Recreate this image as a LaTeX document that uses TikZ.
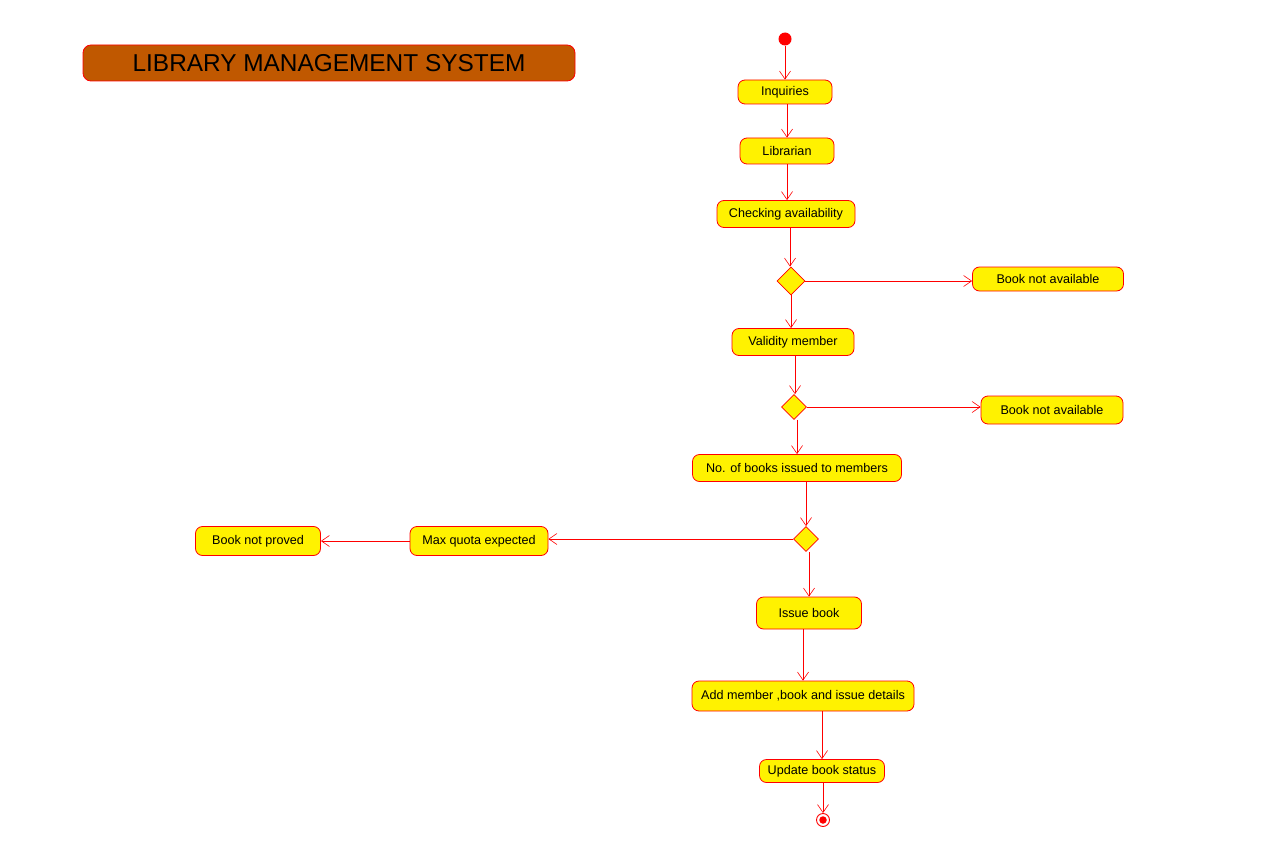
\documentclass[tikz,border=0pt]{standalone}
\usepackage{fontspec}
\setmainfont{Liberation Sans}
\usetikzlibrary{shapes.geometric,arrows.meta}
\definecolor{titlebrown}{HTML}{C05800}
\begin{document}
\begin{tikzpicture}[x=1pt, y=-1pt,
  act/.style={draw=red, fill=yellow, line width=0.8pt, rounded corners=7pt, font=\fontsize{12.6}{14}\selectfont, inner sep=2pt},
  decision/.style={diamond, draw=red, fill=yellow, line width=0.8pt, inner sep=0pt, minimum width=#1, minimum height=#1},
  flow/.style={draw=red, line width=0.6pt, -{Straight Barb[length=8pt, width=11pt]}}]
\useasboundingbox (0,0) rectangle (1277,848);
% title
\node[draw=red, fill=titlebrown, line width=0.8pt, rounded corners=8pt, minimum width=492pt, minimum height=36pt, font=\fontsize{24.4}{28}\selectfont] (title) at (329,63) {LIBRARY MANAGEMENT SYSTEM};
% start and end
\node[circle, fill=red, inner sep=0pt, minimum size=13pt] (start) at (785,39) {};
\node[circle, draw=red, fill=white, line width=0.9pt, inner sep=0pt, minimum size=13pt] (stop) at (823,820) {};
\node[circle, fill=red, inner sep=0pt, minimum size=7.5pt] at (stop) {};
% activities
\node[act, minimum width=94pt, minimum height=24pt] (inq) at (785,92) {Inquiries};
\node[act, minimum width=94pt, minimum height=26pt] (lib) at (787,151) {Librarian};
\node[act, minimum width=138pt, minimum height=27pt] (chk) at (786,214) {Checking availability};
\node[decision=28pt] (d1) at (791,281) {};
\node[act, minimum width=151pt, minimum height=24pt] (nav1) at (1048,279) {Book not available};
\node[act, minimum width=122pt, minimum height=27pt] (val) at (793,342) {Validity member};
\node[decision=25pt] (d2) at (794,407) {};
\node[act, minimum width=142pt, minimum height=28pt] (nav2) at (1052,410) {Book not available};
\node[act, minimum width=209pt, minimum height=27pt] (num) at (797,468) {No. of books issued to members};
\node[decision=25pt] (d3) at (806,539) {};
\node[act, minimum width=138pt, minimum height=29pt] (quota) at (479,541) {Max quota expected};
\node[act, minimum width=125pt, minimum height=29pt] (prov) at (258,541) {Book not proved};
\node[act, minimum width=105pt, minimum height=32pt] (iss) at (809,613) {Issue book};
\node[act, minimum width=222pt, minimum height=30pt] (add) at (803,696) {Add member ,book and issue details};
\node[act, minimum width=125pt, minimum height=23pt] (upd) at (822,771) {Update book status};
% connectors
\draw[flow] (start) -- (inq.north);
\draw[flow] (inq.south -| lib) -- (lib.north);
\draw[flow] (lib.south) -- (lib.south |- chk.north);
\draw[flow] (chk.south -| 790,0) -- (d1.north -| 790,0);
\draw[flow] (d1.east) -- (d1 -| nav1.west);
\draw[flow] (d1.south) -- (d1.south |- val.north);
\draw[flow] (val.south -| 795,0) -- (d2.north -| 795,0);
\draw[flow] (d2.east) -- (d2 -| nav2.west);
\draw[flow] (d2.south -| 797,0) -- (num.north);
\draw[flow] (num.south -| d3) -- (d3.north);
\draw[flow] (d3.west) -- (d3 -| quota.east);
\draw[flow] (quota.west) -- (quota -| prov.east);
\draw[flow] (d3.south -| iss) -- (iss.north);
\draw[flow] (iss.south -| add) -- (add.north);
\draw[flow] (add.south -| upd) -- (upd.north);
\draw[flow] (upd.south -| stop) -- (stop.north);
\end{tikzpicture}
\end{document}
